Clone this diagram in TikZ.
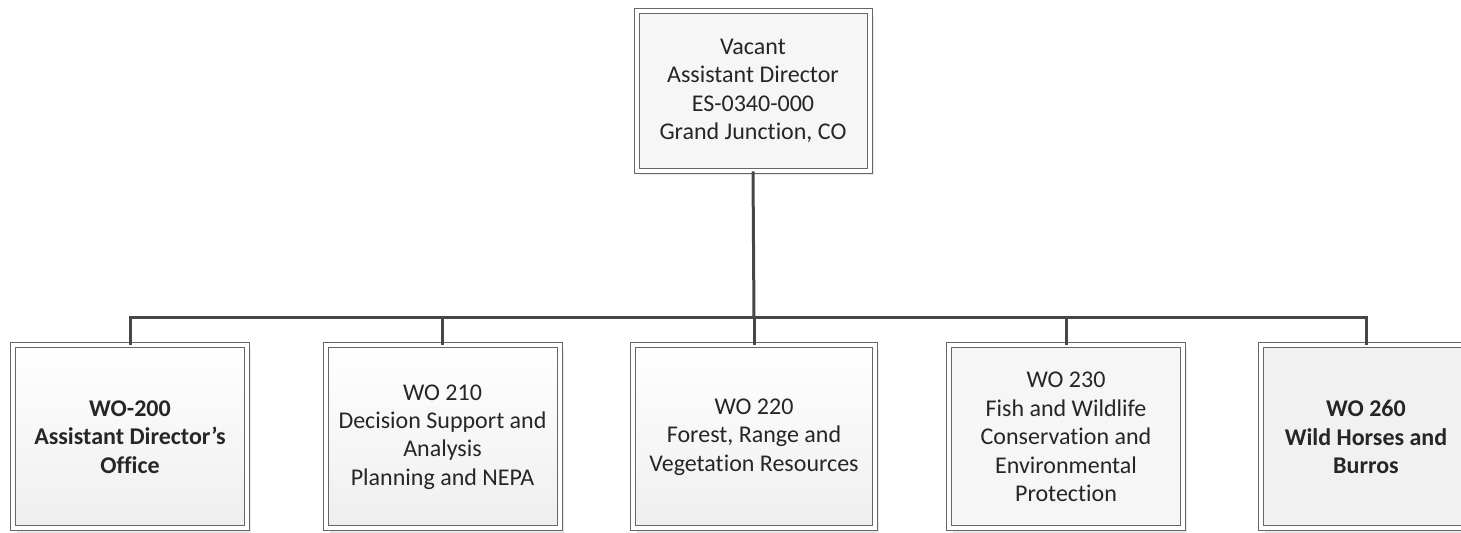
\documentclass[tikz,border=0pt]{standalone}
\usepackage{fontspec}
\setmainfont{Carlito}[Ligatures={NoCommon}]
\usepackage{xcolor}
\usetikzlibrary{shadows}

\tikzset{
  orgbox/.style={draw=gray!80!black, double=white, double distance=2pt, line width=0.5pt,
    align=center, inner sep=2pt, text=black!85,
    font=\fontsize{12}{14.2}\selectfont,
    drop shadow={shadow xshift=2.2pt, shadow yshift=-2.2pt, fill=gray!35, opacity=0.5}},
  gradbox/.style={top color=white, bottom color=gray!13},
  dotbox/.style={fill=gray!7},
  greybox/.style={fill=gray!11},
  link/.style={draw=black!72, line width=1.5pt}
}

\begin{document}
\begin{tikzpicture}[x=0.5pt, y=-0.5pt]
  \useasboundingbox (0,0) rectangle (1461,533);
  \clip (0,0) rectangle (1461,533);

  \node[orgbox, dotbox, minimum width=116.5pt, minimum height=80pt] (ad) at (753,91)
    {Vacant\\Assistant Director\\ES-0340-000\\Grand Junction, CO};

  \foreach \x/\w/\kind/\txt [count=\i] in {
      130/117pt/gradbox/{\bfseries WO-200\\\bfseries Assistant Director’s\\\bfseries Office},
      442.5/117pt/gradbox/{WO 210\\Decision Support and\\Analysis\\Planning and NEPA},
      754/121pt/gradbox/{WO 220\\Forest, Range and\\Vegetation Resources},
      1066/117pt/dotbox/{WO 230\\Fish and Wildlife\\Conservation and\\Environmental\\Protection},
      1366/105pt/greybox/{\bfseries WO 260\\\bfseries Wild Horses and\\\bfseries Burros}} {
    \node[orgbox, \kind, minimum width=\w, minimum height=91.5pt] (wo\i) at (\x,437) {\txt};
  }

  \coordinate (bus) at (754,318);
  \draw[link] (ad.south) -- (bus);
  \draw[link] (wo1.north) |- (bus) -| (wo5.north);
  \foreach \i in {2,3,4} {
    \draw[link] (wo\i.north) -- (wo\i.north |- bus);
  }
\end{tikzpicture}
\end{document}
